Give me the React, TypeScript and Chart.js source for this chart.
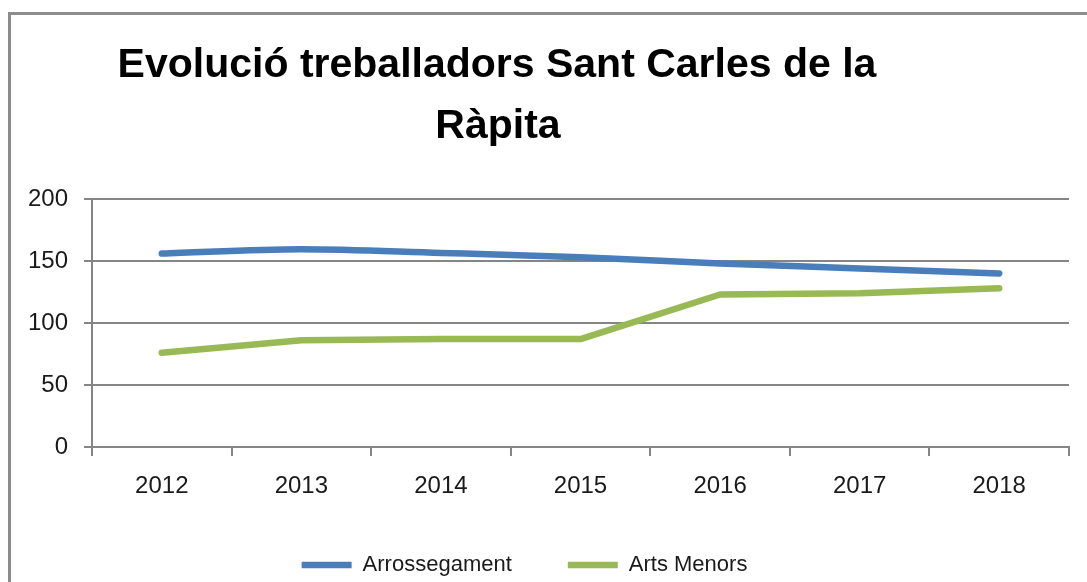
import React, { useEffect, useRef } from "react";
import { Chart, registerables } from "chart.js";

Chart.register(...registerables);

const years = ["2012", "2013", "2014", "2015", "2016", "2017", "2018"];
const arrossegament = [156, 159.5, 156.5, 153, 148, 144, 140];
const artsMenors = [76, 86, 87, 87, 123, 124, 128];
const yTickValues = [0, 50, 100, 150, 200];
const titleLines = ["Evolució treballadors Sant Carles de la", "Ràpita"];
const seriesNames = ["Arrossegament", "Arts Menors"];

const FONT = "'Liberation Sans', Arial, sans-serif";
const GRID = "#858585";
const TEXT = "#1a1a1a";
const BLUE = "#4A7EBB";
const GREEN = "#98B954";

const titlePlugin = {
  id: "offsetTitle",
  afterDraw(chart: any) {
    const ctx = chart.ctx;
    ctx.save();
    ctx.font = `bold 41px ${FONT}`;
    ctx.fillStyle = "#000";
    ctx.textAlign = "center";
    ctx.textBaseline = "alphabetic";
    ctx.fillText(titleLines[0], 497, 77);
    ctx.fillText(titleLines[1], 498, 138);
    ctx.restore();
  },
};

const legendShift = {
  id: "legendShift",
  afterLayout(chart: any) {
    const l = chart.legend;
    if (!l) return;
    l.left -= 24;
    l.right -= 24;
  },
};

export default function App() {
  const ref = useRef<HTMLCanvasElement | null>(null);

  useEffect(() => {
    if (!ref.current) return;
    const chart = new Chart(ref.current, {
      type: "line",
      data: {
        labels: years,
        datasets: [
          {
            label: seriesNames[0],
            data: arrossegament,
            borderColor: BLUE,
            backgroundColor: BLUE,
            borderWidth: 6.5,
            pointRadius: 0,
            cubicInterpolationMode: "monotone",
            borderCapStyle: "round",
            borderJoinStyle: "round",
          },
          {
            label: seriesNames[1],
            data: artsMenors,
            borderColor: GREEN,
            backgroundColor: GREEN,
            borderWidth: 6.5,
            pointRadius: 0,
            tension: 0,
            borderCapStyle: "round",
            borderJoinStyle: "round",
          },
        ],
      },
      options: {
        responsive: false,
        animation: false,
        devicePixelRatio: 1,
        layout: { padding: { top: 199, left: 28, right: 18, bottom: -4 } },
        scales: {
          x: {
            type: "category",
            offset: true,
            grid: {
              offset: true,
              drawOnChartArea: false,
              drawTicks: true,
              tickLength: 9,
              color: GRID,
              lineWidth: 2,
            },
            border: { display: true, color: GRID, width: 2 },
            ticks: {
              font: { family: FONT, size: 24 },
              color: TEXT,
              padding: 16,
              maxRotation: 0,
              autoSkip: false,
            },
            afterFit: (s: any) => {
              s.height = 51;
            },
          },
          y: {
            min: 0,
            max: 200,
            afterBuildTicks: (s: any) => {
              s.ticks = yTickValues.map((v) => ({ value: v }));
            },
            ticks: {
              font: { family: FONT, size: 24 },
              color: TEXT,
              padding: 16,
            },
            grid: { color: GRID, lineWidth: 2, tickLength: 8, drawTicks: true },
            border: { display: true, color: GRID, width: 2 },
            afterFit: (s: any) => {
              s.width = 64;
            },
          },
        },
        plugins: {
          title: { display: false },
          tooltip: { enabled: false },
          legend: {
            display: true,
            position: "bottom",
            labels: {
              usePointStyle: true,
              pointStyle: "line",
              pointStyleWidth: 50,
              padding: 56,
              color: TEXT,
              font: { family: FONT, size: 22 },
            },
          },
        },
      },
      plugins: [titlePlugin, legendShift],
    } as any);
    return () => chart.destroy();
  }, []);

  return (
    <div
      style={{
        position: "fixed",
        left: 0,
        top: 0,
        width: 1087,
        height: 582,
        overflow: "hidden",
        background: "#fff",
      }}
    >
      <div
        style={{
          position: "absolute",
          left: 8,
          top: 12,
          width: 1200,
          height: 700,
          border: "3px solid #8c8c8c",
          boxSizing: "border-box",
        }}
      />
      <canvas
        ref={ref}
        width={1087}
        height={582}
        style={{ position: "absolute", left: 0, top: 0, width: 1087, height: 582 }}
      />
    </div>
  );
}
